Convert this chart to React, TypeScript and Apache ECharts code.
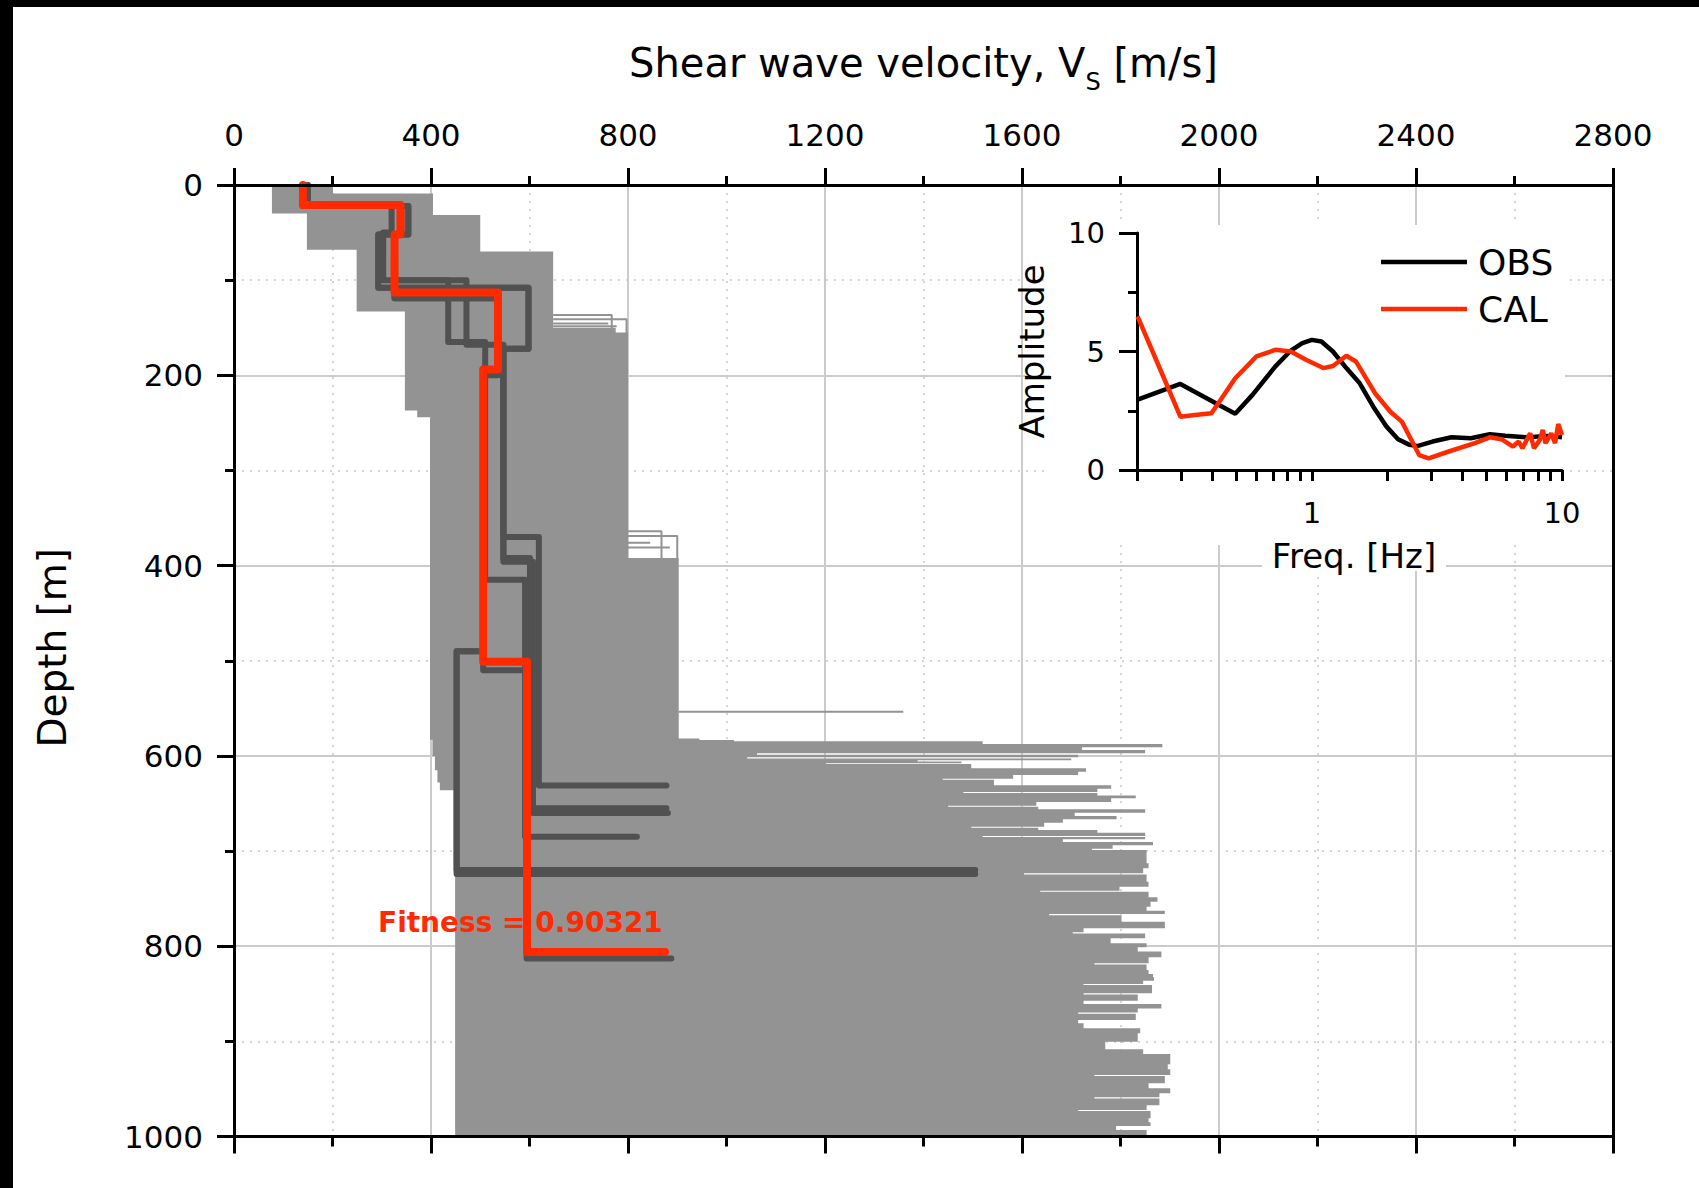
import React, { useEffect, useRef } from 'react';
import * as echarts from 'echarts';

const FONT = 'DejaVu Sans';

// ---- main axes ----
const VS_MIN = 0;
const VS_MAX = 2800;
const VS_STEP = 400;
const DEPTH_MIN = 0;
const DEPTH_MAX = 1000;
const DEPTH_STEP = 200;

// ---- envelope of all tested profiles: [band top depth (m), Vs (m/s)] ----
const envelopeLeft: [number, number][] = [
  [0, 77], [30, 148], [68, 249], [133, 347], [237, 372], [244, 398],
  [583, 403], [600, 408], [615, 413], [628, 418], [636, 449],
];

const envelopeRight: [number, number][] = [
  [0, 201], [9, 404], [31.5, 500], [70, 648], [150, 775], [155, 800], [392, 903],
  [581.6, 945], [583.3, 1015], [584.7, 1520], [587.5, 1885], [591.0, 1722], [593.8, 1850],
  [597.3, 1062], [598.7, 1714], [601.5, 1042], [602.8, 1700], [604.5, 1388], [605.8, 1477], [607.6, 1202],
  [608.6, 1497], [613.1, 1730], [616.6, 1714], [620.1, 1582], [623.9, 1439], [625.0, 1543],
  [630.9, 1781], [634.4, 1753], [637.9, 1481], [639.1, 1753], [641.5, 1831], [644.6, 1781],
  [648.5, 1629], [652.3, 1450], [653.4, 1633], [656.2, 1850], [659.7, 1707], [663.2, 1792],
  [666.7, 1683], [670.2, 1645], [674.4, 1497], [675.5, 1633], [677.9, 1753], [680.7, 1850],
  [684.2, 1520], [685.3, 1850], [687.7, 1683], [690.5, 1866], [694.0, 1784], [697.5, 1742],
  [698.9, 1853], [705.9, 1853], [712.9, 1857], [718.2, 1846], [723.4, 1604], [724.6, 1853],
  [732.2, 1857], [737.4, 1798], [741.6, 1637], [742.8, 1857], [748.6, 1875], [753.2, 1861],
  [758.5, 1853], [762.7, 1890], [766.2, 1655], [767.4, 1802], [774.2, 1890], [781.2, 1725],
  [785.4, 1703], [786.6, 1850], [791.7, 1780], [797.0, 1853], [801.2, 1835], [805.7, 1883],
  [811.7, 1857], [818.0, 1747], [819.2, 1853], [825.0, 1857], [829.2, 1866], [832.7, 1868],
  [836.2, 1846], [839.7, 1725], [840.9, 1864], [849.5, 1725], [850.7, 1835], [857.2, 1725],
  [860.7, 1883], [865.6, 1835], [869.8, 1714], [871.0, 1831], [877.6, 1714], [881.1, 1725],
  [886.3, 1840], [891.6, 1835], [896.1, 1835], [900.3, 1769], [904.5, 1769], [908.4, 1846],
  [913.3, 1901], [918.9, 1901], [924.1, 1896], [929.4, 1901], [935.3, 1747], [936.5, 1890],
  [944.1, 1857], [949.4, 1901], [954.6, 1879], [958.8, 1747], [960.0, 1879], [967.2, 1853],
  [972.1, 1714], [973.3, 1861], [980.9, 1857], [985.1, 1861], [988.9, 1791], [993.2, 1853],
  [997.4, 1853],
];

// thin tails of single profiles sticking out of the envelope: [Vs, depth]
const tailLines: [number, number][][] = [
  [[648, 136.5], [767, 136.5], [767, 158]],
  [[648, 141], [797, 141], [797, 158]],
  [[648, 145.5], [760, 145.5]],
  [[648, 148.5], [777, 148.5]],
  [[800, 364], [868, 364], [868, 392]],
  [[800, 369], [900, 369], [900, 392]],
  [[800, 376], [845, 376]],
  [[800, 381], [885, 381]],
  [[903, 553.5], [1359, 553.5]],
];

// best profiles (dark grey): layer velocities and interface depths
const darkProfileVs: number[][] = [
  [150, 354, 293, 598, 547, 619, 878],
  [140, 320, 303, 472, 547, 607, 881],
  [140, 340, 326, 435, 510, 591, 818],
  [140, 338, 326, 536, 506, 452, 1505],
  [140, 338, 326, 536, 506, 452, 1505],
  [140, 338, 326, 536, 506, 594, 888],
  [150, 354, 293, 598, 547, 601, 878],
];
const darkProfileDepths: number[][] = [
  [22, 52, 108, 172, 370, 631],
  [22, 50, 100, 168, 396, 660],
  [22, 52, 100, 165, 415, 685],
  [21, 52, 119, 194, 490, 720],
  [21, 52, 119, 194, 490, 724],
  [21, 52, 113, 200, 510, 813],
  [22, 52, 108, 172, 392, 655],
];

// fittest profile (red)
const bestVs = [140, 338, 326, 536, 506, 595, 875];
const bestDepths = [21, 52, 113, 194, 501, 806];
const fitnessText = 'Fitness = 0.90321';

// ---- inset: amplitude spectra ----
const freqMin = 0.2;
const freqMax = 10;
const freqTicks = [0.2, 0.3, 0.4, 0.5, 0.6, 0.7, 0.8, 0.9, 1, 2, 3, 4, 5, 6, 7, 8, 9, 10];
const freqLabels = [1, 10];
const obsFreq = [0.2, 0.298, 0.494, 0.579, 0.715, 0.824, 0.916, 1.0, 1.092, 1.214, 1.374, 1.554, 1.758,
  1.989, 2.211, 2.458, 2.637, 3.037, 3.62, 4.32, 5.15, 5.93, 7.33, 8.75, 10];
const obsAmp = [2.96, 3.63, 2.37, 3.17, 4.37, 5.04, 5.35, 5.49, 5.42, 5.0, 4.30, 3.66, 2.68,
  1.83, 1.30, 1.06, 1.01, 1.20, 1.38, 1.34, 1.51, 1.45, 1.38, 1.44, 1.38];
const calFreq = [0.201, 0.248, 0.298, 0.341, 0.397, 0.494, 0.600, 0.715, 0.824, 0.948, 1.111, 1.214,
  1.374, 1.50, 1.789, 2.06, 2.29, 2.458, 2.685, 2.93, 3.50, 4.48, 5.15, 5.73, 6.37, 6.71, 6.95,
  7.46, 7.73, 8.15, 8.38, 8.59, 9.06, 9.38, 9.66, 10];
const calAmp = [6.48, 4.23, 2.25, 2.32, 2.39, 3.87, 4.79, 5.07, 5.0, 4.65, 4.30, 4.39,
  4.82, 4.58, 3.24, 2.46, 2.04, 1.41, 0.63, 0.49, 0.77, 1.13, 1.38, 1.30, 0.99, 1.20, 0.92,
  1.55, 0.92, 1.27, 1.69, 1.13, 1.55, 1.13, 1.94, 1.48];

const GRAY = '#939393';
const DARK = '#515151';
const RED = '#ff2a00';

function profilePoints(vs: number[], d: number[]): [number, number][] {
  const pts: [number, number][] = [];
  let top = 0;
  for (let i = 0; i < vs.length - 1; i++) {
    pts.push([vs[i], top]);
    pts.push([vs[i], d[i]]);
    top = d[i];
  }
  pts.push([vs[vs.length - 1], top]);
  return pts;
}

function bandPoints(bands: [number, number][], end: number): [number, number][] {
  const pts: [number, number][] = [];
  for (let i = 0; i < bands.length; i++) {
    const d0 = bands[i][0];
    const d1 = i + 1 < bands.length ? bands[i + 1][0] : end;
    pts.push([bands[i][1], d0]);
    pts.push([bands[i][1], d1]);
  }
  return pts;
}

export default function App() {
  const ref = useRef<HTMLDivElement>(null);
  useEffect(() => {
    if (!ref.current) return;
    const chart = echarts.init(ref.current, undefined, { renderer: 'svg' });

    const PL = 234, PT = 185, PW = 1379, PH = 951.5;
    const IL = 1137, IT = 233, IW = 425, IH = 237;

    const ctx = document.createElement('canvas').getContext('2d') as CanvasRenderingContext2D;
    const measure = (t: string, size: number) => {
      ctx.font = `${size}px "${FONT}"`;
      return ctx.measureText(t).width;
    };
    const t1 = 'Shear wave velocity, V';
    const t2 = 'S';
    const t3 = ' [m/s]';
    const w1 = measure(t1, 40);
    const w2 = measure(t2, 24);
    const w3 = measure(t3, 40);
    const tx0 = PL + PW / 2 - (w1 + w2 + w3) / 2;
    const titleY = 63;

    const envelopePoly = [
      ...bandPoints(envelopeRight, DEPTH_MAX),
      ...bandPoints(envelopeLeft, DEPTH_MAX).reverse(),
    ];

    const black = { color: '#000', width: 3 };
    const plain = (v: number) => String(v);

    const series: any[] = [];
    series.push({
      type: 'custom',
      xAxisIndex: 0,
      yAxisIndex: 0,
      z: 2,
      silent: true,
      clip: false,
      data: [[0, 0]],
      renderItem: (_p: any, api: any) => ({
        type: 'polygon',
        shape: { points: envelopePoly.map((p) => api.coord(p)) },
        style: { fill: GRAY, stroke: null },
      }),
    });
    tailLines.forEach((line) => {
      series.push({
        type: 'line', xAxisIndex: 0, yAxisIndex: 0, z: 3, silent: true,
        symbol: 'none', data: line,
        lineStyle: { color: GRAY, width: 2 },
      });
    });
    darkProfileVs.forEach((vs, i) => {
      series.push({
        type: 'line', xAxisIndex: 0, yAxisIndex: 0, z: 4, silent: true,
        symbol: 'none', data: profilePoints(vs, darkProfileDepths[i]),
        lineStyle: { color: DARK, width: 6, cap: 'round', join: 'round' },
      });
    });
    series.push({
      type: 'line', xAxisIndex: 0, yAxisIndex: 0, z: 5, silent: true,
      symbol: 'none', data: profilePoints(bestVs, bestDepths),
      lineStyle: { color: RED, width: 8, cap: 'round', join: 'round' },
    });
    series.push({
      name: 'OBS', type: 'line', xAxisIndex: 3, yAxisIndex: 3, z: 12, silent: true,
      symbol: 'none', data: obsFreq.map((f, i) => [Math.log10(f), obsAmp[i]]),
      lineStyle: { color: '#000', width: 4.5 }, itemStyle: { color: '#000' },
    });
    series.push({
      name: 'CAL', type: 'line', xAxisIndex: 3, yAxisIndex: 3, z: 13, silent: true,
      symbol: 'none', data: calFreq.map((f, i) => [Math.log10(f), calAmp[i]]),
      lineStyle: { color: RED, width: 4.5 }, itemStyle: { color: RED },
    });

    const option: any = {
      animation: false,
      backgroundColor: '#fff',
      textStyle: { fontFamily: FONT },
      grid: [
        { left: PL, top: PT, width: PW, height: PH, containLabel: false, outerBoundsMode: 'none' },
        { left: IL, top: IT, width: IW, height: IH, containLabel: false, outerBoundsMode: 'none' },
      ],
      legend: {
        data: [
          { name: 'OBS', icon: 'rect', itemStyle: { color: '#000' } },
          { name: 'CAL', icon: 'rect', itemStyle: { color: RED } },
        ],
        orient: 'vertical', left: 1381, top: 244, padding: 0,
        itemWidth: 86, itemHeight: 4.5, itemGap: 11, selectedMode: false, z: 15,
        textStyle: { fontSize: 36, fontFamily: FONT, color: '#000', lineHeight: 36, padding: [0, 0, 0, 6] },
      },
      xAxis: [
        {
          gridIndex: 0, type: 'value', position: 'top', min: VS_MIN, max: VS_MAX, interval: VS_STEP, z: 10,
          axisLine: { show: true, onZero: false, lineStyle: black },
          axisTick: { show: true, inside: false, length: 17, lineStyle: black },
          minorTick: { show: true, splitNumber: 2, length: 9, lineStyle: black },
          axisLabel: { show: true, fontSize: 31, fontFamily: FONT, color: '#000', margin: 35, formatter: plain },
          splitLine: { show: false }, minorSplitLine: { show: false },
        },
        {
          gridIndex: 0, type: 'value', position: 'bottom', min: VS_MIN, max: VS_MAX, interval: VS_STEP, z: 10,
          axisLine: { show: true, onZero: false, lineStyle: black },
          axisTick: { show: true, inside: false, length: 17, lineStyle: black },
          minorTick: { show: true, splitNumber: 2, length: 10, lineStyle: black },
          axisLabel: { show: false },
          splitLine: { show: false }, minorSplitLine: { show: false },
        },
        {
          gridIndex: 0, type: 'value', position: 'bottom', min: VS_MIN, max: VS_MAX, interval: VS_STEP, z: 0,
          axisLine: { show: false, onZero: false }, axisTick: { show: false },
          minorTick: { show: false, splitNumber: 2 }, axisLabel: { show: false },
          splitLine: { show: true, lineStyle: { color: '#cbcbcb', width: 2 } },
          minorSplitLine: { show: true, lineStyle: { color: '#c8c8c8', width: 1.5, type: [2, 6] } },
        },
        {
          gridIndex: 1, type: 'value', position: 'bottom', min: Math.log10(freqMin), max: Math.log10(freqMax), z: 10,
          axisLine: { show: true, onZero: false, lineStyle: black },
          axisTick: { show: true, inside: false, length: 11, lineStyle: black, customValues: freqTicks.map((f) => Math.log10(f)) },
          axisLabel: {
            show: true, fontSize: 29, fontFamily: FONT, color: '#000', margin: 28,
            customValues: freqLabels.map((f) => Math.log10(f)),
            formatter: (v: number) => String(Math.round(Math.pow(10, v))),
          },
          splitLine: { show: false },
        },
      ],
      yAxis: [
        {
          gridIndex: 0, type: 'value', position: 'left', inverse: true, min: DEPTH_MIN, max: DEPTH_MAX, interval: DEPTH_STEP, z: 10,
          axisLine: { show: true, onZero: false, lineStyle: black },
          axisTick: { show: true, inside: false, length: 17, lineStyle: black },
          minorTick: { show: true, splitNumber: 2, length: 9, lineStyle: black },
          axisLabel: { show: true, fontSize: 31, fontFamily: FONT, color: '#000', margin: 31, formatter: plain },
          splitLine: { show: false }, minorSplitLine: { show: false },
        },
        {
          gridIndex: 0, type: 'value', position: 'right', inverse: true, min: DEPTH_MIN, max: DEPTH_MAX, interval: DEPTH_STEP, z: 10,
          axisLine: { show: true, onZero: false, lineStyle: black },
          axisTick: { show: false }, axisLabel: { show: false },
          splitLine: { show: false },
        },
        {
          gridIndex: 0, type: 'value', position: 'left', inverse: true, min: DEPTH_MIN, max: DEPTH_MAX, interval: DEPTH_STEP, z: 0,
          axisLine: { show: false, onZero: false }, axisTick: { show: false },
          minorTick: { show: false, splitNumber: 2 }, axisLabel: { show: false },
          splitLine: { show: true, lineStyle: { color: '#cbcbcb', width: 2 } },
          minorSplitLine: { show: true, lineStyle: { color: '#c8c8c8', width: 1.5, type: [2, 6] } },
        },
        {
          gridIndex: 1, type: 'value', position: 'left', min: 0, max: 10, interval: 5, z: 10,
          axisLine: { show: true, onZero: false, lineStyle: black },
          axisTick: { show: true, inside: false, length: 18, lineStyle: black },
          minorTick: { show: true, splitNumber: 2, length: 9, lineStyle: black },
          axisLabel: { show: true, fontSize: 29, fontFamily: FONT, color: '#000', margin: 32, formatter: plain },
          splitLine: { show: false }, minorSplitLine: { show: false },
        },
      ],
      graphic: [
        { type: 'rect', z: 1, silent: true, shape: { x: 1050, y: 225, width: 515, height: 320 }, style: { fill: '#fff' } },
        { type: 'rect', z: 9, silent: true, shape: { x: 1262, y: 541, width: 184, height: 30 }, style: { fill: '#fff' } },
        { type: 'text', z: 20, x: tx0, y: titleY, style: { text: t1, font: `40px "${FONT}"`, fill: '#000', align: 'left', verticalAlign: 'middle' } },
        { type: 'text', z: 20, x: tx0 + w1, y: titleY + 19, style: { text: t2, font: `24px "${FONT}"`, fill: '#000', align: 'left', verticalAlign: 'middle' } },
        { type: 'text', z: 20, x: tx0 + w1 + w2, y: titleY, style: { text: t3, font: `40px "${FONT}"`, fill: '#000', align: 'left', verticalAlign: 'middle' } },
        { type: 'text', z: 20, x: 52, y: PT + PH / 2 - 13, rotation: Math.PI / 2, style: { text: 'Depth [m]', font: `39px "${FONT}"`, fill: '#000', align: 'center', verticalAlign: 'middle' } },
        { type: 'text', z: 20, x: 1032, y: IT + IH / 2, rotation: Math.PI / 2, style: { text: 'Amplitude', font: `34px "${FONT}"`, fill: '#000', align: 'center', verticalAlign: 'middle' } },
        { type: 'text', z: 20, x: 1354, y: 556, style: { text: 'Freq. [Hz]', font: `34px "${FONT}"`, fill: '#000', align: 'center', verticalAlign: 'middle' } },
        { type: 'text', z: 20, x: 378, y: 922, style: { text: fitnessText, font: `bold 28px "${FONT}"`, fill: RED, align: 'left', verticalAlign: 'middle' } },
        { type: 'rect', z: 100, silent: true, shape: { x: 0, y: 0, width: 13, height: 1188 }, style: { fill: '#000' } },
        { type: 'rect', z: 100, silent: true, shape: { x: 0, y: 0, width: 1699, height: 7 }, style: { fill: '#000' } },
      ],
      series,
    };
    chart.setOption(option);
    return () => chart.dispose();
  }, []);
  return <div ref={ref} style={{ position: 'fixed', left: 0, top: 0, width: 1699, height: 1188, background: '#fff' }} />;
}
